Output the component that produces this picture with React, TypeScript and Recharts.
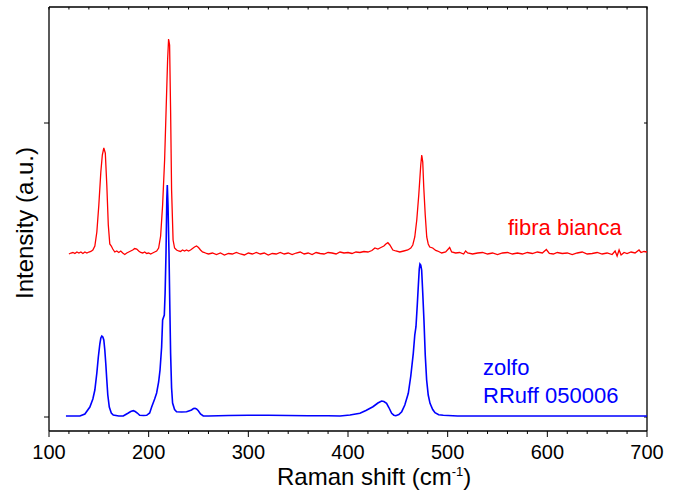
import { Line, LineChart, XAxis, YAxis } from "recharts";

const FONT = '"Liberation Sans", Arial, Helvetica, sans-serif';

// fibra bianca (red), Raman shift in cm-1 and intensity in arbitrary units
const fibraShift = [
  120, 122, 124, 126, 128, 130, 132, 134, 136, 138, 140, 142, 144, 146, 148, 150, 152, 153.5, 155, 156.5,
  158, 159.5, 161, 162.5, 164, 166, 168, 170, 172, 174, 176, 178, 180, 182, 184, 186, 188, 190, 192, 194,
  196, 198, 200, 202, 204, 206, 208, 210, 212, 214, 216, 217.5, 219, 220, 221, 222, 223, 224.5, 226, 228,
  230, 232, 234, 236, 238, 240, 242, 244, 246, 248, 250, 252, 254, 256, 258, 260, 264, 268, 272, 276,
  280, 284, 288, 292, 296, 300, 304, 308, 312, 316, 320, 324, 328, 332, 336, 340, 344, 348, 352, 356,
  360, 364, 368, 372, 376, 380, 384, 388, 392, 396, 400, 404, 408, 412, 416, 420, 424, 427, 430, 433,
  436, 438, 440, 442, 445, 448, 452, 456, 460, 463, 465, 467, 469, 471, 472, 473, 474, 475, 476, 477.5,
  479, 480.5, 482, 485, 488, 490, 494, 498, 502, 504, 508, 512, 516, 518, 520, 525, 530, 535, 540, 545,
  550, 555, 560, 565, 570, 575, 580, 585, 590, 595, 599, 602, 606, 610, 615, 620, 625, 630, 635, 640,
  645, 650, 655, 660, 665, 668, 670, 672, 674, 677, 680, 684, 688, 692, 694, 697, 700,
];
const fibraIntensity = [
  163, 164, 164.5, 163.5, 165, 164, 165, 163.5, 165, 164, 165, 165.5, 167, 171, 185, 212, 245, 262, 269, 264,
  232, 192, 173, 171, 168, 165, 166, 164.5, 166, 164, 162.5, 164, 165, 166, 167, 168.5, 168, 166, 164.5, 164,
  165, 163.5, 164, 163, 164, 165, 166, 169, 181, 212, 257, 307, 357, 378, 372, 307, 227, 177, 169, 167,
  166, 165.5, 167, 166, 167, 166, 167, 168.5, 170, 171, 169.5, 167, 165, 164.5, 163.5, 163, 164, 162.5, 164, 162,
  163.5, 163, 164.5, 163, 162, 164, 163, 164.5, 163, 164, 162, 163.5, 163, 164.5, 163, 164, 162.5, 164, 165, 163,
  164, 162.5, 164.5, 163.5, 163, 164.5, 164, 163, 165, 164, 164.5, 163.5, 165, 164.5, 165.5, 165, 166.5, 169, 168, 169.5,
  171, 173, 174.3, 172, 167, 166, 165, 166, 167, 169, 172, 180, 197, 222, 237, 252, 262, 255, 230, 202,
  180, 173, 170, 169, 166.5, 166, 164, 165, 169.5, 165, 164, 164.5, 163, 166, 164, 163, 164, 164.5, 163, 164,
  162.5, 164, 164.5, 163, 164, 163, 164.5, 163.5, 165, 164, 167.5, 163.5, 163, 164.5, 163.5, 164, 162.5, 164, 165, 163,
  163.5, 164.5, 163, 164, 162.5, 166, 161, 167, 162, 164.5, 163.5, 165, 164, 167, 164.5, 165.5, 165,
];

// zolfo, RRuff 050006 (blue)
const zolfoShift = [
  117, 125, 131, 136, 141, 144, 146, 148, 149.5, 151, 152, 153, 154, 155, 156, 157, 158, 159, 160.5, 162.5,
  164.5, 170, 174.5, 177, 179.6, 182, 184.6, 186.5, 188.6, 191, 195, 198, 201, 203, 206, 208, 210, 211.4, 213, 214,
  215.7, 216.5, 217.4, 218.2, 218.7, 219.4, 220.4, 221.2, 222, 223, 224, 226, 228, 233, 238, 241, 243, 245, 246.5, 248,
  249.8, 252, 254.8, 260, 280, 300, 320, 340, 360, 380, 392, 402, 412, 418, 425, 430, 433.7, 436, 438.7, 441,
  443.8, 446, 448, 451, 453.9, 457, 460.5, 463, 465.5, 467, 468.2, 469.5, 470.5, 471.5, 472.2, 473, 473.9, 475, 476.2, 477.5,
  478.9, 480.5, 482.3, 485, 487.3, 491, 495.6, 510, 600, 700,
];
const zolfoIntensity = [
  1, 1, 1, 3, 10, 18, 27, 44, 60, 73, 79, 81, 80, 77, 67, 53, 37, 22, 10, 4,
  2, 1, 1, 2.5, 4, 5.5, 6.3, 5.5, 4, 1.7, 1.5, 1.7, 4, 10, 18, 24, 35, 47, 70, 97,
  102, 124, 164, 218, 232, 212, 164, 112, 64, 29, 14, 7.5, 5.3, 5, 5.3, 6.3, 7, 8.5, 8.7, 8,
  6.3, 3, 1, 1, 1.5, 1.7, 1.7, 1.5, 1.2, 1.2, 1, 2, 3.7, 6.5, 10.3, 14, 16, 15.5, 13.7, 9.5,
  3.7, 1.8, 1.3, 2.4, 5.3, 12, 23.7, 41, 63.7, 82, 90.3, 112, 130.3, 148, 153, 152, 147, 124, 97, 62,
  37, 22, 13.7, 7.5, 4.3, 2.3, 1.7, 1, 1, 1,
];

const xTicks = [
  100, 120, 140, 160, 180, 200, 220, 240, 260, 280, 300, 320, 340, 360, 380, 400,
  420, 440, 460, 480, 500, 520, 540, 560, 580, 600, 620, 640, 660, 680, 700,
];
const xLabels = [100, 200, 300, 400, 500, 600, 700];
const yTicks = [0, 294];
const xDomain = [100, 700];
const yDomain = [-14, 410];

const fibra = fibraShift.map((shift, i) => ({ shift, intensity: fibraIntensity[i] }));
const zolfo = zolfoShift.map((shift, i) => ({ shift, intensity: zolfoIntensity[i] }));

const W = 678;
const H = 497;
const MARGIN = { top: 7, right: 31, left: 0, bottom: 0 };
const Y_AXIS_W = 49;
const X_AXIS_H = 66;

// plot box, derived from the chart size, margins and axis sizes
const box = {
  x: MARGIN.left + Y_AXIS_W,
  y: MARGIN.top,
  width: W - MARGIN.left - MARGIN.right - Y_AXIS_W,
  height: H - MARGIN.top - MARGIN.bottom - X_AXIS_H,
};
const sx = (v: number) => box.x + ((v - xDomain[0]) / (xDomain[1] - xDomain[0])) * box.width;
const sy = (v: number) => box.y + box.height - ((v - yDomain[0]) / (yDomain[1] - yDomain[0])) * box.height;

function BottomTick({ x, y, payload }: any) {
  const major = xLabels.includes(payload.value);
  return (
    <g>
      <line x1={x} x2={x} y1={y} y2={y + (major ? 6 : 3)} stroke="#000" strokeWidth={1} />
      {major && (
        <text x={x} y={y + 28} textAnchor="middle" fontSize={20} fontFamily={FONT} fill="#000">
          {payload.value}
        </text>
      )}
    </g>
  );
}

function LeftTick({ x, y }: any) {
  return <line x1={x - 5} x2={x} y1={y} y2={y} stroke="#000" strokeWidth={1} />;
}

const frame = { stroke: "#000", strokeWidth: 1.3 };

export default function App() {
  const right = box.x + box.width;
  return (
    <div style={{ position: "absolute", left: 0, top: 0 }}>
      <LineChart width={W} height={H} margin={MARGIN}>
        <XAxis
          dataKey="shift"
          type="number"
          domain={xDomain}
          allowDataOverflow
          ticks={xTicks}
          interval={0}
          tickSize={0}
          tickMargin={0}
          tickLine={false}
          tick={<BottomTick />}
          height={X_AXIS_H}
          axisLine={frame}
        />
        <YAxis
          type="number"
          domain={yDomain}
          allowDataOverflow
          ticks={yTicks}
          interval={0}
          tickSize={0}
          tickMargin={0}
          tickLine={false}
          tick={<LeftTick />}
          width={Y_AXIS_W}
          axisLine={frame}
        />
        <Line
          data={fibra}
          dataKey="intensity"
          type="linear"
          stroke="#ff0000"
          strokeWidth={1.3}
          dot={false}
          isAnimationActive={false}
        />
        <Line
          data={zolfo}
          dataKey="intensity"
          type="linear"
          stroke="#0000ff"
          strokeWidth={1.6}
          dot={false}
          isAnimationActive={false}
        />
        <path
          d={`M${box.x},${box.y} H${right} V${box.y + box.height}`}
          fill="none"
          stroke="#000"
          strokeWidth={1.3}
        />
        <path
          d={xTicks.map((v) => `M${sx(v)},${box.y} v2.5`).join(" ")}
          fill="none"
          stroke="#000"
          strokeWidth={1}
        />
        <path
          d={yTicks.map((v) => `M${right},${sy(v)} h-3`).join(" ")}
          fill="none"
          stroke="#000"
          strokeWidth={1}
        />
        <text x={508} y={235} fontSize={22} fontFamily={FONT} fill="#ff0000">
          fibra bianca
        </text>
        <text x={483} y={375} fontSize={22} fontFamily={FONT} fill="#0000ff">
          zolfo
        </text>
        <text x={483} y={403} fontSize={22} fontFamily={FONT} fill="#0000ff">
          RRuff 050006
        </text>
        <text
          x={33}
          y={223}
          transform="rotate(-90 33 223)"
          textAnchor="middle"
          fontSize={24}
          fontFamily={FONT}
          fill="#000"
        >
          Intensity (a.u.)
        </text>
        <text x={277} y={485} fontSize={24} fontFamily={FONT} fill="#000">
          Raman shift (cm
          <tspan dy={-9} fontSize={13}>
            -1
          </tspan>
          <tspan dy={9}>)</tspan>
        </text>
      </LineChart>
    </div>
  );
}
